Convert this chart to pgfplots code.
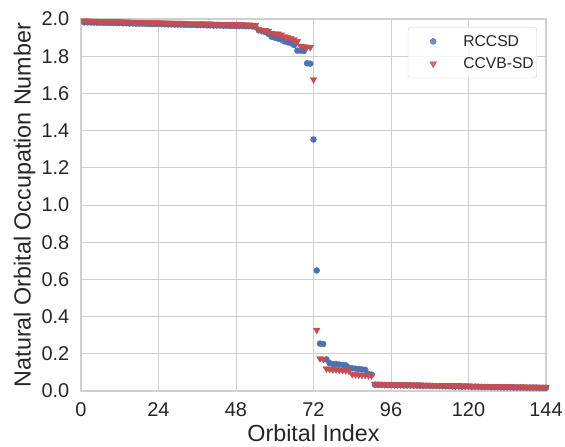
\documentclass[border=0pt]{standalone}
\usepackage{pgfplots}
\pgfplotsset{compat=1.18}
\usepackage{fontspec}
\setmainfont{Liberation Sans}
\definecolor{sbblue}{HTML}{4C72B0}
\definecolor{sbred}{HTML}{C44E52}
\definecolor{gridc}{HTML}{CFCFCF}
\definecolor{txt}{HTML}{262626}
\begin{document}
\begin{tikzpicture}
\begin{axis}[
  name=ax,
  width=465bp, height=372bp, scale only axis,
  xmin=0, xmax=144, ymin=0, ymax=2,
  xtick={0,24,...,144},
  ytick={0,0.2,0.4,0.6,0.8,1.0,1.2,1.4,1.6,1.8,2.0},
  yticklabel style={/pgf/number format/fixed, /pgf/number format/fixed zerofill, /pgf/number format/precision=1, anchor=east, xshift=-11.5bp},
  /pgf/number format/assume math mode=true,
  grid=major,
  major grid style={gridc, line width=0.9pt},
  axis line style={gridc, line width=1.3pt},
  tick style={draw=none},
  ticklabel style={font=\fontsize{20}{20}\selectfont, text=txt, inner sep=0pt},
  xticklabel style={anchor=north, yshift=-11.5bp},
  label style={font=\fontsize{23.4}{23.4}\selectfont, text=txt},
  xlabel={Orbital Index},
  ylabel={Natural Orbital Occupation Number},
  xlabel style={at={(rel axis cs:0.5,-0.137)}, anchor=base, inner sep=0pt},
  ylabel style={at={(rel axis cs:-0.1215,0.5)}, anchor=center},
  legend style={at={(rel axis cs:0.9806,0.9785)}, anchor=north east, draw=gridc, rounded corners=3pt,
    font=\fontsize{15.7}{15.7}\selectfont, text=txt, fill=white, fill opacity=0.8, text opacity=1,
    inner xsep=3bp, inner ysep=8bp, row sep=10bp, nodes={inner sep=0pt}},
  legend image code/.code={\path (0bp,0bp) (52bp,0bp); \draw[#1] plot coordinates {(22bp,0bp)};},
  legend cell align=left,
]
\addplot[only marks, mark=*, mark size=3pt, draw=sbblue, fill=sbblue] table {
x y
1 1.982
2 1.982
3 1.981
4 1.981
5 1.980
6 1.980
7 1.980
8 1.979
9 1.979
10 1.978
11 1.978
12 1.978
13 1.977
14 1.977
15 1.976
16 1.976
17 1.975
18 1.975
19 1.975
20 1.974
21 1.974
22 1.973
23 1.973
24 1.973
25 1.972
26 1.972
27 1.971
28 1.971
29 1.970
30 1.970
31 1.970
32 1.969
33 1.969
34 1.968
35 1.968
36 1.967
37 1.967
38 1.967
39 1.966
40 1.966
41 1.965
42 1.965
43 1.965
44 1.964
45 1.964
46 1.963
47 1.963
48 1.962
49 1.962
50 1.962
51 1.961
52 1.961
53 1.960
54 1.958
55 1.940
56 1.935
57 1.930
58 1.920
59 1.905
60 1.900
61 1.895
62 1.890
63 1.880
64 1.875
65 1.870
66 1.860
67 1.830
68 1.830
69 1.828
70 1.762
71 1.760
72 1.352
73 0.648
74 0.255
75 0.253
76 0.170
77 0.150
78 0.145
79 0.145
80 0.142
81 0.140
82 0.138
83 0.125
84 0.122
85 0.120
86 0.118
87 0.116
88 0.114
89 0.092
90 0.088
91 0.034
92 0.033
93 0.033
94 0.032
95 0.032
96 0.032
97 0.031
98 0.031
99 0.031
100 0.030
101 0.030
102 0.030
103 0.029
104 0.029
105 0.029
106 0.028
107 0.028
108 0.028
109 0.027
110 0.027
111 0.027
112 0.026
113 0.026
114 0.026
115 0.025
116 0.025
117 0.025
118 0.024
119 0.024
120 0.024
121 0.023
122 0.023
123 0.023
124 0.022
125 0.022
126 0.022
127 0.021
128 0.021
129 0.021
130 0.020
131 0.020
132 0.020
133 0.020
134 0.019
135 0.019
136 0.019
137 0.019
138 0.018
139 0.018
140 0.018
141 0.018
142 0.017
143 0.017
144 0.017
};
\addlegendentry{RCCSD}
\addplot[only marks, mark=triangle*, mark size=3.9pt, mark options={rotate=180}, draw=sbred, fill=sbred] table {
x y
1 1.990
2 1.990
3 1.989
4 1.989
5 1.988
6 1.988
7 1.988
8 1.987
9 1.987
10 1.986
11 1.986
12 1.986
13 1.985
14 1.985
15 1.984
16 1.984
17 1.983
18 1.983
19 1.983
20 1.982
21 1.982
22 1.981
23 1.981
24 1.981
25 1.980
26 1.980
27 1.979
28 1.979
29 1.978
30 1.978
31 1.978
32 1.977
33 1.977
34 1.976
35 1.976
36 1.975
37 1.975
38 1.975
39 1.974
40 1.974
41 1.973
42 1.973
43 1.973
44 1.972
45 1.972
46 1.971
47 1.971
48 1.970
49 1.970
50 1.970
51 1.969
52 1.969
53 1.968
54 1.966
55 1.945
56 1.940
57 1.940
58 1.935
59 1.925
60 1.920
61 1.920
62 1.915
63 1.905
64 1.900
65 1.895
66 1.890
67 1.880
68 1.855
69 1.852
70 1.850
71 1.848
72 1.675
73 0.328
74 0.175
75 0.172
76 0.120
77 0.118
78 0.115
79 0.115
80 0.113
81 0.112
82 0.110
83 0.108
84 0.090
85 0.088
86 0.087
87 0.086
88 0.085
89 0.084
90 0.083
91 0.038
92 0.037
93 0.037
94 0.036
95 0.036
96 0.036
97 0.035
98 0.035
99 0.035
100 0.034
101 0.034
102 0.034
103 0.033
104 0.033
105 0.033
106 0.032
107 0.032
108 0.032
109 0.031
110 0.031
111 0.031
112 0.030
113 0.030
114 0.030
115 0.029
116 0.029
117 0.029
118 0.028
119 0.028
120 0.028
121 0.027
122 0.027
123 0.027
124 0.026
125 0.026
126 0.026
127 0.025
128 0.025
129 0.025
130 0.024
131 0.024
132 0.024
133 0.024
134 0.023
135 0.023
136 0.023
137 0.023
138 0.022
139 0.022
140 0.022
141 0.022
142 0.021
143 0.021
144 0.021
};
\addlegendentry{CCVB-SD}
\end{axis}
\pgfresetboundingbox
\useasboundingbox ([shift={(-81bp,-56bp)}]ax.south west) rectangle ([shift={(19bp,19bp)}]ax.north east);
\end{tikzpicture}
\end{document}
